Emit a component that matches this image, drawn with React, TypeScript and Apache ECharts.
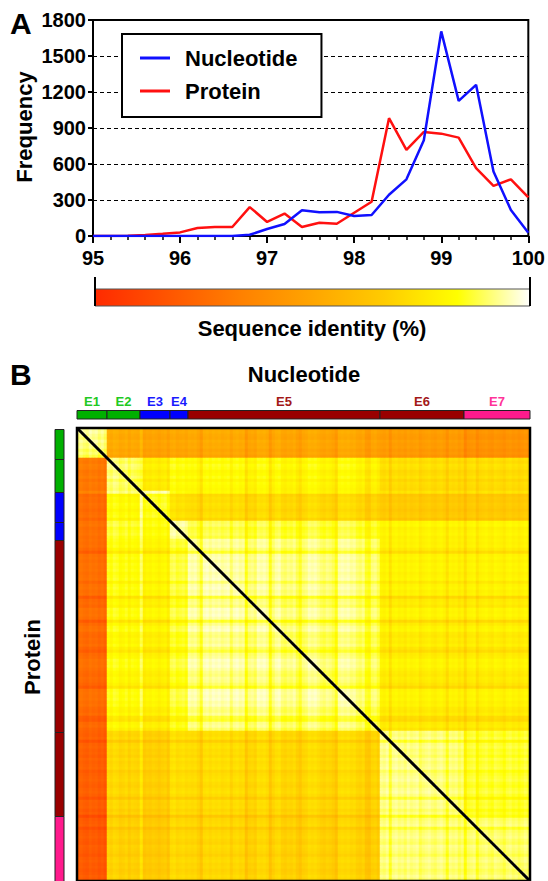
import React, { useEffect, useRef } from 'react';
import * as echarts from 'echarts';

// ---------- Panel A data ----------
const identityBins = [95, 95.2, 95.4, 95.6, 95.8, 96, 96.2, 96.4, 96.6, 96.8, 97, 97.2, 97.4, 97.6, 97.8, 98, 98.2, 98.4, 98.6, 98.8, 99, 99.2, 99.4, 99.6, 99.8, 100];
const nucleotideFreq = [0, 0, 0, 0, 0, 0, 0, 0, 0, 10, 58, 100, 214, 197, 201, 166, 175, 344, 472, 798, 1705, 1126, 1260, 537, 216, 28];
const proteinFreq = [0, 0, 3, 8, 18, 30, 66, 75, 75, 241, 117, 187, 75, 111, 102, 194, 285, 982, 717, 867, 853, 820, 565, 418, 472, 321];
const seriesNames = ['Nucleotide', 'Protein'];
const seriesColors = ['#1010ff', '#ff1010'];

// colour scale of sequence identity (95 -> 100 %)
const identityMin = 95;
const identityMax = 100;
const identityColors = ['#ff2a00', '#ff5500', '#ff8000', '#ffa500', '#ffcc00', '#ffff00', '#ffffff'];

// ---------- Panel B data ----------
const groupNames = ['E1', 'E2', 'E3', 'E4', 'E5', 'E6', 'E7'];
const groupSizes = [10, 11, 10, 6, 64, 28, 22];
const groupBarColors = ['#00b000', '#00b000', '#0000ff', '#0000ff', '#990000', '#990000', '#ff1a8c'];
const groupTextColors = ['#22c922', '#22c922', '#1a1aff', '#1a1aff', '#a31818', '#a31818', '#ff3399'];

// nucleotide identity between groups (upper triangle): row group i, column groups i..E7
const nucleotideRows = [
  [99.6, 97.55, 97.55, 97.45, 97.45, 97.25, 97.05],
  [99.4, 98.95, 99.05, 98.95, 98.55, 98.55],
  [99.5, 98.75, 98.6, 98.35, 98.35],
  [99.55, 99.2, 98.9, 98.9],
  [99.4, 98.8, 98.8],
  [99.5, 99.25],
  [99.45],
];
// protein identity between groups (lower triangle): row group i, column groups E1..i
const proteinRows = [
  [99.5],
  [96.5, 99.45],
  [96.4, 99.2, 99.45],
  [96.3, 99.2, 99.2, 99.55],
  [96.2, 99.0, 99.0, 99.15, 99.45],
  [96.0, 98.45, 98.45, 98.55, 98.45, 99.55],
  [95.9, 98.35, 98.35, 98.45, 98.35, 99.5, 99.45],
];
// per-sequence deviations read from the stripes of the matrix
const offsetsE1 = [0.05, 0.1, 0, -0.05, 0.1, 0, 0.05, -0.1, 0, -0.15];
const offsetsE2 = [0.1, 0, 0.15, 0.1, -0.05, 0, 0.1, -0.1, 0.05, 0, -0.05];
const offsetsE3 = [0.35, -0.2, -0.1, -0.15, -0.05, -0.1, -0.2, -0.1, -0.05, -0.25];
const offsetsE4 = [0.1, 0.15, 0, 0.05, 0.1, 0];
const offsetsE5 = [
  0.15, 0.1, 0.15, 0, -0.25, 0.15, 0.2, 0.1,
  0.2, 0.15, 0.2, 0.1, 0.15, 0.2, -0.05, 0.15,
  0.2, 0.1, 0.15, -0.3, 0, 0.05, -0.05, 0.2,
  0.15, 0.2, 0.1, -0.3, 0, 0.15, 0.2, 0,
  -0.05, 0.05, 0, 0.1, -0.1, -0.25, 0, 0.05,
  0.2, 0.15, 0.2, 0.1, 0, -0.05, 0.05, 0,
  -0.1, -0.3, 0.15, 0.2, 0.15, 0.2, 0.1, 0.15,
  0, -0.05, 0.05, -0.25, -0.3, 0, 0.05, -0.1,
];
const offsetsE6 = [0.05, 0, 0.1, -0.25, 0.05, 0.1, 0, 0.05, -0.05, 0.1, 0, 0.05, 0.1, -0.1, 0, 0.05, 0.1, 0, -0.05, 0.05, 0.1, 0, -0.25, 0.05, 0, 0.05, -0.1, 0];
const offsetsE7 = [-0.3, 0, 0.05, 0.1, -0.2, 0, 0.05, 0.1, 0, -0.05, 0.1, 0.05, 0, -0.1, 0.05, 0.1, 0, 0.05, -0.05, 0, 0.1, 0];

const FONT = '"Liberation Sans", Arial, Helvetica, sans-serif';

function buildMatrix() {
  const offsets = [...offsetsE1, ...offsetsE2, ...offsetsE3, ...offsetsE4, ...offsetsE5, ...offsetsE6, ...offsetsE7];
  const groupOf: number[] = [];
  groupSizes.forEach((n, g) => {
    for (let k = 0; k < n; k++) groupOf.push(g);
  });
  const n = groupOf.length;
  const data: [number, number, number][] = [];
  for (let r = 0; r < n; r++) {
    for (let c = 0; c < n; c++) {
      let v: number;
      if (r === c) v = 100;
      else if (c > r) v = nucleotideRows[groupOf[r]][groupOf[c] - groupOf[r]] + offsets[r] + offsets[c];
      else v = proteinRows[groupOf[r]][groupOf[c]] + offsets[r] + offsets[c];
      v = Math.max(identityMin, Math.min(identityMax, v));
      data.push([c, r, Math.round(v * 100) / 100]);
    }
  }
  return { data, n };
}

export default function App() {
  const ref = useRef<HTMLDivElement>(null);

  useEffect(() => {
    document.body.style.margin = '0';
    if (!ref.current) return;
    const chart = echarts.init(ref.current, null, { renderer: 'svg' });

    const { data: heatData, n } = buildMatrix();
    const seqLabels = Array.from({ length: n }, (_, i) => String(i + 1));

    const heatLeft = 77;
    const heatTop = 428;
    const heatSize = 453;
    const cell = heatSize / n;

    const gradStops = identityColors.map((c, i) => ({ offset: i / (identityColors.length - 1), color: c }));

    const graphics: any[] = [];
    // panel letters
    graphics.push({ type: 'text', x: 10, y: 23, style: { text: 'A', font: `bold 30px ${FONT}`, fill: '#000', textVerticalAlign: 'middle' } });
    graphics.push({ type: 'text', x: 10, y: 374, style: { text: 'B', font: `bold 30px ${FONT}`, fill: '#000', textVerticalAlign: 'middle' } });
    // Frequency axis title
    graphics.push({ type: 'text', x: 24, y: 127, rotation: Math.PI / 2, style: { text: 'Frequency', font: `bold 22px ${FONT}`, fill: '#000', textAlign: 'center', textVerticalAlign: 'middle' } });
    // colour bar
    graphics.push({ type: 'rect', shape: { x: 95, y: 289, width: 435, height: 17 }, style: { fill: new echarts.graphic.LinearGradient(0, 0, 1, 0, gradStops), stroke: '#555', lineWidth: 1 } });
    graphics.push({ type: 'line', shape: { x1: 95, y1: 277, x2: 95, y2: 306 }, style: { stroke: '#000', lineWidth: 2 } });
    graphics.push({ type: 'line', shape: { x1: 530, y1: 277, x2: 530, y2: 306 }, style: { stroke: '#000', lineWidth: 2 } });
    graphics.push({ type: 'text', x: 312, y: 328, style: { text: 'Sequence identity (%)', font: `bold 22px ${FONT}`, fill: '#000', textAlign: 'center', textVerticalAlign: 'middle' } });
    // panel B titles
    graphics.push({ type: 'text', x: 304, y: 374, style: { text: 'Nucleotide', font: `bold 22px ${FONT}`, fill: '#000', textAlign: 'center', textVerticalAlign: 'middle' } });
    graphics.push({ type: 'text', x: 32, y: 657, rotation: Math.PI / 2, style: { text: 'Protein', font: `bold 22px ${FONT}`, fill: '#000', textAlign: 'center', textVerticalAlign: 'middle' } });
    // group bars and labels
    let start = 0;
    groupSizes.forEach((size, g) => {
      const x0 = heatLeft + start * cell;
      const w = size * cell;
      graphics.push({ type: 'rect', shape: { x: x0, y: 410.5, width: w, height: 8.5 }, style: { fill: groupBarColors[g], stroke: '#222', lineWidth: 1 } });
      graphics.push({ type: 'text', x: x0 + w / 2, y: 401, style: { text: groupNames[g], font: `bold 13px ${FONT}`, fill: groupTextColors[g], textAlign: 'center', textVerticalAlign: 'middle' } });
      const y0 = heatTop + start * cell;
      graphics.push({ type: 'rect', shape: { x: 55, y: y0 + 1.5, width: 9, height: w }, style: { fill: groupBarColors[g], stroke: '#222', lineWidth: 1 } });
      start += size;
    });
    // heatmap frame and diagonal
    graphics.push({ type: 'rect', z: 100, shape: { x: heatLeft, y: heatTop, width: heatSize, height: heatSize }, style: { fill: 'none', stroke: '#000', lineWidth: 2.5 } });
    graphics.push({ type: 'line', z: 100, shape: { x1: heatLeft, y1: heatTop, x2: heatLeft + heatSize, y2: heatTop + heatSize }, style: { stroke: '#000', lineWidth: 3 } });

    const axisLabelStyle = { color: '#000', fontSize: 20, fontWeight: 'bold' as const, fontFamily: FONT };

    chart.setOption({
      animation: false,
      textStyle: { fontFamily: FONT },
      grid: [
        { left: 93, top: 20, width: 437, height: 216, show: true, borderColor: '#000', borderWidth: 2, backgroundColor: 'transparent' },
        { left: heatLeft, top: heatTop, width: heatSize, height: heatSize },
      ],
      legend: {
        data: seriesNames.map((name) => ({ name, icon: 'rect' })),
        orient: 'vertical',
        left: 122,
        top: 34,
        backgroundColor: '#fff',
        borderColor: '#000',
        borderWidth: 2,
        borderRadius: 0,
        padding: [13, 24, 15, 18],
        itemWidth: 30,
        itemHeight: 3,
        itemGap: 11,
        textStyle: { fontSize: 22, fontWeight: 'bold', color: '#000', fontFamily: FONT, padding: [0, 0, 0, 10], lineHeight: 22 },
      },
      xAxis: [
        {
          type: 'value', gridIndex: 0, min: 95, max: 100, interval: 1,
          axisLine: { lineStyle: { color: '#000', width: 2 } },
          axisTick: { length: 7, lineStyle: { color: '#000', width: 2 } },
          minorTick: { show: true, splitNumber: 5, length: 4, lineStyle: { color: '#000', width: 1.5 } },
          splitLine: { show: false },
          axisLabel: { ...axisLabelStyle, margin: 12 },
        },
        { type: 'category', gridIndex: 1, data: seqLabels, show: false },
      ],
      yAxis: [
        {
          type: 'value', gridIndex: 0, min: 0, max: 1800, interval: 300,
          axisLine: { show: true, lineStyle: { color: '#000', width: 2 } },
          axisTick: { show: true, length: 5, lineStyle: { color: '#000', width: 2 } },
          splitLine: { show: true, lineStyle: { color: '#000', width: 1.2, type: [4, 3] } },
          axisLabel: { ...axisLabelStyle, margin: 7, formatter: (v: number) => String(v) },
        },
        { type: 'category', gridIndex: 1, data: seqLabels, inverse: true, show: false },
      ],
      visualMap: {
        type: 'continuous', show: false, min: identityMin, max: identityMax, seriesIndex: 2,
        inRange: { color: identityColors },
      },
      series: [
        {
          name: seriesNames[0], type: 'line', xAxisIndex: 0, yAxisIndex: 0, symbol: 'none',
          lineStyle: { color: seriesColors[0], width: 2.5 }, itemStyle: { color: seriesColors[0] },
          data: identityBins.map((x, i) => [x, nucleotideFreq[i]]), z: 3,
        },
        {
          name: seriesNames[1], type: 'line', xAxisIndex: 0, yAxisIndex: 0, symbol: 'none',
          lineStyle: { color: seriesColors[1], width: 2.5 }, itemStyle: { color: seriesColors[1] },
          data: identityBins.map((x, i) => [x, proteinFreq[i]]), z: 2,
        },
        {
          type: 'heatmap', xAxisIndex: 1, yAxisIndex: 1, data: heatData, progressive: 0,
          itemStyle: { borderWidth: 0 }, emphasis: { disabled: true },
        },
      ],
      graphic: graphics,
    });

    return () => chart.dispose();
  }, []);

  return <div ref={ref} style={{ width: 548, height: 881 }} />;
}
